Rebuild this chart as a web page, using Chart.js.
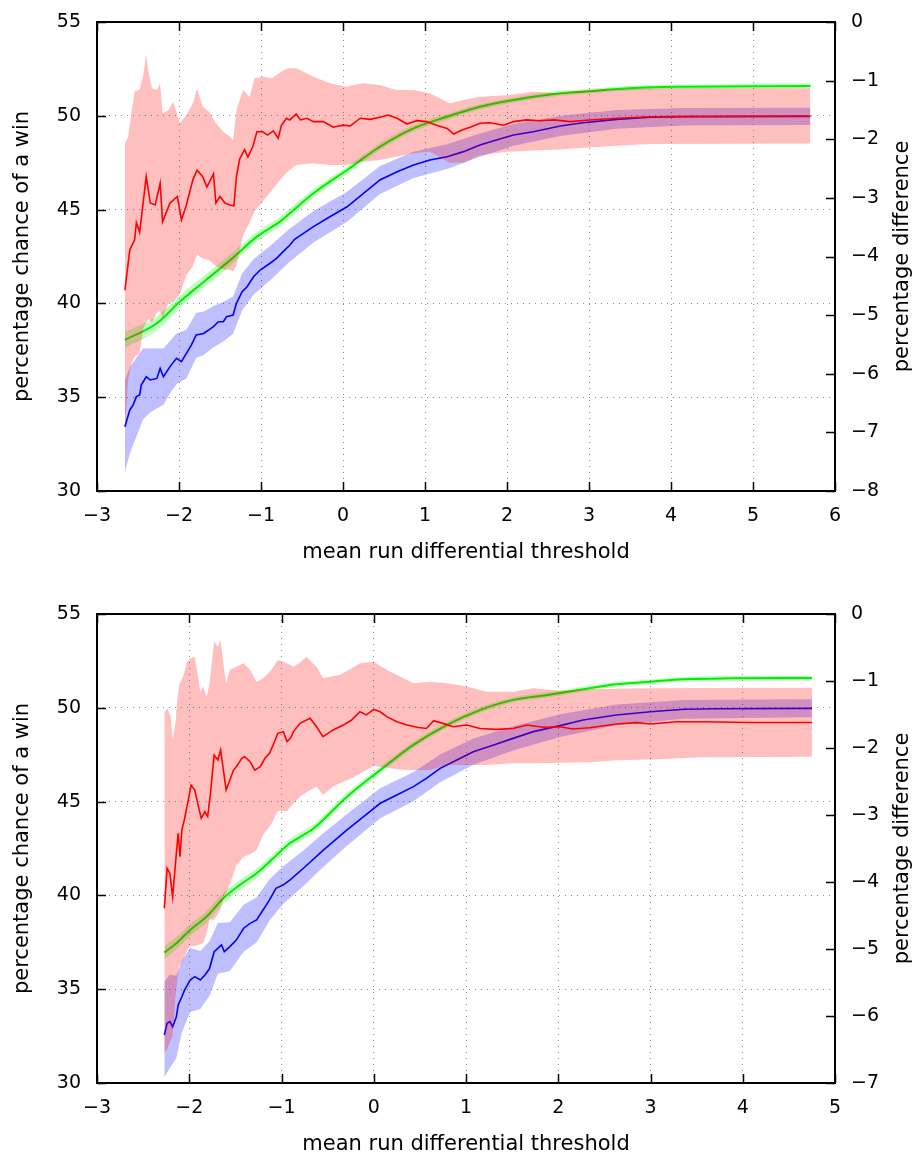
<!DOCTYPE html>
<html>
<head>
<meta charset="utf-8">
<script src="https://cdn.jsdelivr.net/npm/chart.js@4.4.1/dist/chart.umd.min.js"></script>
<style>
html,body{margin:0;padding:0;background:#fff;}
canvas{position:absolute;left:0;}
</style>
</head>
<body>
<canvas id="c1" width="913" height="563" style="top:0px"></canvas>
<canvas id="c2" width="913" height="563" style="top:592px"></canvas>
<script>
// ---------- TOP PANEL DATA ----------
const TOP_RED_X = [-2.66,-2.60,-2.54,-2.52,-2.48,-2.44,-2.40,-2.35,-2.29,-2.23,-2.20,-2.11,-2.02,-1.97,-1.91,-1.83,-1.78,-1.71,-1.66,-1.58,-1.55,-1.50,-1.44,-1.38,-1.33,-1.30,-1.26,-1.20,-1.16,-1.10,-1.05,-0.98,-0.92,-0.85,-0.79,-0.75,-0.69,-0.65,-0.57,-0.52,-0.44,-0.36,-0.24,-0.12,0.00,0.09,0.21,0.33,0.45,0.55,0.66,0.78,0.90,1.02,1.14,1.27,1.35,1.45,1.55,1.67,1.79,1.96,2.08,2.24,2.40,2.57,2.77,3.01,3.34,3.74,4.15,5.70];
const TOP_RED = [40.7,42.85,43.4,44.3,43.8,45.25,46.75,45.35,45.25,46.4,44.35,45.35,45.7,44.45,45.25,46.6,47.1,46.75,46.2,46.9,45.35,45.7,45.35,45.25,45.2,46.75,47.7,48.2,47.8,48.35,49.15,49.15,48.97,49.2,48.8,49.5,49.87,49.78,50.1,49.78,49.87,49.69,49.69,49.39,49.5,49.46,49.87,49.81,49.92,50.04,49.87,49.56,49.74,49.69,49.5,49.33,49.03,49.24,49.39,49.6,49.63,49.5,49.69,49.78,49.74,49.78,49.69,49.78,49.87,49.95,49.97,49.99];

const TOP_RED_BAND_X = [-2.66,-2.62,-2.58,-2.54,-2.48,-2.44,-2.40,-2.37,-2.33,-2.27,-2.23,-2.20,-2.13,-2.07,-1.99,-1.91,-1.83,-1.78,-1.71,-1.63,-1.55,-1.46,-1.38,-1.34,-1.30,-1.22,-1.14,-1.08,-0.97,-0.87,-0.77,-0.68,-0.57,-0.36,-0.16,0.04,0.24,0.45,0.65,0.86,1.06,1.30,1.47,1.67,2.00,2.32,2.65,2.93,3.74,5.70];
const TOP_RED_LO = [33.3,35.9,36.8,37.16,37.34,38.6,39.0,39.2,39.0,39.5,39.6,39.2,40.0,40.1,40.5,41.5,42.0,42.6,42.4,42.3,42.0,41.8,41.8,41.7,42.0,43.6,44.3,44.9,45.5,46.0,46.58,47.0,47.38,47.47,47.38,47.38,47.55,47.64,47.82,48.0,48.09,47.5,47.5,47.9,48.09,48.15,48.2,48.3,48.5,48.53];
const TOP_RED_HI = [48.5,48.9,50.2,51.3,51.4,52.1,53.24,52.27,51.47,51.38,51.73,50.13,50.3,50.75,49.6,50.04,50.67,51.47,50.48,50.2,49.6,49.15,48.89,48.7,50.3,51.38,51.0,52.0,52.08,52.0,52.3,52.53,52.53,52.08,51.73,51.55,51.73,51.64,51.38,51.38,51.2,50.67,50.84,51.02,51.1,51.28,51.2,51.38,51.47,51.47];

const TOP_BLUE_X = [-2.66,-2.60,-2.56,-2.52,-2.48,-2.46,-2.40,-2.35,-2.27,-2.23,-2.19,-2.11,-2.03,-1.97,-1.91,-1.85,-1.79,-1.70,-1.64,-1.58,-1.52,-1.46,-1.42,-1.34,-1.30,-1.23,-1.17,-1.09,-1.01,-0.89,-0.81,-0.73,-0.65,-0.59,-0.36,-0.16,0.05,0.25,0.45,0.66,0.86,1.06,1.27,1.47,1.67,1.87,2.08,2.32,2.65,2.93,3.34,3.74,4.15,5.70];
const TOP_BLUE = [33.43,34.32,34.58,35.03,35.12,35.65,36.09,35.92,36.0,36.54,36.09,36.63,37.07,36.9,37.34,37.78,38.32,38.4,38.58,38.76,39.02,39.02,39.29,39.38,40.0,40.62,40.89,41.42,41.78,42.14,42.4,42.76,43.1,43.42,44.09,44.62,45.15,45.87,46.58,47.02,47.38,47.64,47.82,48.09,48.44,48.71,48.98,49.15,49.46,49.63,49.81,49.92,49.95,49.97];

const TOP_BLUE_BAND_X = [-2.66,-2.60,-2.52,-2.44,-2.35,-2.27,-2.19,-2.11,-2.03,-1.91,-1.79,-1.70,-1.58,-1.46,-1.34,-1.23,-1.09,-0.89,-0.65,-0.36,0.05,0.45,0.86,1.27,1.67,2.08,2.65,3.34,4.15,5.70];
const TOP_BLUE_LO = [31.0,32.0,32.9,33.8,34.2,34.4,34.6,35.2,35.7,36.0,37.1,37.25,37.66,37.97,38.38,39.64,40.47,41.22,42.22,43.25,44.35,45.83,46.68,47.16,47.82,48.4,48.92,49.31,49.48,49.51];
const TOP_BLUE_HI = [35.9,36.6,37.1,37.6,37.6,37.6,37.6,38.0,38.4,38.6,39.5,39.55,39.86,40.07,40.38,41.6,42.37,43.06,43.98,44.93,45.95,47.33,48.08,48.48,49.06,49.56,50.0,50.31,50.42,50.43];

// green: percentage difference (right axis)
const TOP_GREEN_X = [-2.66,-2.27,-1.99,-1.67,-1.35,-1.05,-0.77,-0.65,-0.36,0.05,0.45,0.86,1.27,1.67,2.08,2.65,2.93,3.34,3.74,4.15,5.70];
const TOP_GREEN = [-5.424,-5.139,-4.771,-4.40,-4.032,-3.661,-3.405,-3.264,-2.922,-2.525,-2.128,-1.814,-1.616,-1.446,-1.331,-1.216,-1.190,-1.142,-1.114,-1.104,-1.091];
const TOP_GREEN_LO = [-5.564,-5.259,-4.881,-4.50,-4.127,-3.746,-3.485,-3.342,-2.992,-2.59,-2.188,-1.869,-1.666,-1.494,-1.376,-1.258,-1.23,-1.182,-1.154,-1.144,-1.131];
const TOP_GREEN_HI = [-5.284,-5.019,-4.661,-4.30,-3.937,-3.576,-3.325,-3.186,-2.852,-2.46,-2.068,-1.759,-1.566,-1.398,-1.286,-1.174,-1.15,-1.102,-1.074,-1.064,-1.051];

// ---------- BOTTOM PANEL DATA ----------
const BOT_RED_X = [-2.27,-2.24,-2.21,-2.18,-2.14,-2.12,-2.10,-2.08,-2.05,-2.01,-1.98,-1.94,-1.90,-1.87,-1.83,-1.80,-1.77,-1.73,-1.69,-1.66,-1.63,-1.60,-1.56,-1.52,-1.49,-1.43,-1.40,-1.34,-1.29,-1.23,-1.18,-1.13,-1.09,-1.04,-0.98,-0.94,-0.90,-0.87,-0.80,-0.69,-0.62,-0.55,-0.44,-0.33,-0.24,-0.15,-0.08,0.00,0.07,0.14,0.25,0.36,0.47,0.57,0.65,0.75,0.86,1.01,1.15,1.33,1.51,1.66,1.84,2.02,2.16,2.34,2.63,2.85,3.00,3.28,3.57,4.08,4.75];
const BOT_RED = [39.31,41.44,41.17,39.93,42.24,43.31,42.06,43.49,44.1,45.09,45.88,45.62,44.73,44.11,44.46,44.2,45.44,47.48,47.22,47.75,46.68,45.62,46.15,46.68,46.86,47.31,47.39,47.13,46.68,46.86,47.31,47.57,48.02,48.64,48.73,48.2,48.4,48.73,49.17,49.44,48.99,48.46,48.82,49.08,49.35,49.79,49.62,49.92,49.79,49.53,49.26,49.08,48.96,48.9,49.31,49.17,48.99,49.08,48.9,48.85,48.9,49.08,48.96,48.99,48.87,48.94,49.14,49.21,49.14,49.26,49.26,49.22,49.22];

const BOT_RED_BAND_X = [-2.27,-2.24,-2.20,-2.18,-2.15,-2.13,-2.11,-2.06,-2.03,-1.99,-1.94,-1.91,-1.88,-1.85,-1.81,-1.78,-1.73,-1.69,-1.66,-1.63,-1.60,-1.56,-1.49,-1.41,-1.34,-1.27,-1.20,-1.11,-1.04,-0.94,-0.87,-0.80,-0.73,-0.62,-0.55,-0.44,-0.37,-0.24,-0.15,0.00,0.14,0.29,0.43,0.61,0.79,1.01,1.22,1.51,1.73,2.02,2.34,2.63,3.00,3.57,4.75];
const BOT_RED_LO = [31.6,31.8,32.3,32.5,34.5,35.5,36.2,36.6,37.0,37.3,37.3,37.35,37.4,37.45,38.0,38.7,38.7,39.0,39.3,39.8,40.1,40.6,41.6,42.06,42.2,42.42,43.2,43.8,44.5,44.5,44.9,45.26,45.5,45.8,45.35,45.8,45.98,46.24,46.5,46.9,46.8,46.7,46.68,46.68,46.95,46.95,46.95,47.04,47.05,47.07,47.1,47.2,47.25,47.36,47.39];
const BOT_RED_HI = [49.7,49.97,49.53,48.28,49.17,50.42,51.22,51.75,52.37,52.64,52.72,51.84,50.86,51.13,50.59,51.31,53.53,53.26,53.61,52.37,51.31,52.02,52.19,52.37,52.02,51.39,51.57,52.02,52.55,52.37,52.19,52.4,52.72,52.19,51.57,51.7,51.75,52.1,52.37,52.46,52.02,51.66,51.31,51.39,51.31,51.13,50.86,50.86,51.04,50.91,50.99,51.02,51.04,51.06,51.07];

const BOT_BLUE_X = [-2.27,-2.24,-2.21,-2.18,-2.14,-2.12,-2.08,-2.05,-1.99,-1.94,-1.88,-1.83,-1.78,-1.73,-1.69,-1.65,-1.62,-1.56,-1.49,-1.41,-1.34,-1.27,-1.20,-1.13,-1.06,-0.98,-0.91,-0.75,-0.55,-0.29,-0.11,0.07,0.25,0.43,0.57,0.72,0.90,1.08,1.30,1.51,1.73,2.02,2.27,2.63,3.00,3.36,3.72,4.75];
const BOT_BLUE = [32.56,33.18,33.27,33.0,33.53,34.16,34.6,34.96,35.49,35.67,35.49,35.76,36.1,37.0,37.18,37.36,37.0,37.27,37.62,38.25,38.51,38.69,39.22,39.76,40.38,40.56,40.82,41.5,42.4,43.49,44.2,44.91,45.35,45.8,46.24,46.77,47.22,47.66,48.02,48.37,48.73,49.05,49.35,49.62,49.79,49.92,49.95,49.97];

const BOT_BLUE_BAND_X = [-2.27,-2.21,-2.14,-2.08,-1.99,-1.88,-1.78,-1.69,-1.56,-1.41,-1.27,-1.13,-0.98,-0.75,-0.55,-0.29,0.07,0.43,0.72,1.08,1.51,2.02,2.63,3.36,4.75];
const BOT_BLUE_LO = [30.3,30.8,31.33,32.7,33.79,33.94,34.65,35.83,35.97,37.0,37.49,38.66,39.56,40.55,41.5,42.64,44.11,45.02,46.03,46.96,47.73,48.45,49.07,49.42,49.49];
const BOT_BLUE_HI = [35.4,35.77,35.73,36.5,37.19,37.04,37.55,38.53,38.57,39.5,39.89,40.86,41.56,42.45,43.3,44.34,45.71,46.58,47.51,48.36,49.01,49.65,50.17,50.42,50.45];

const BOT_GREEN_X = [-2.27,-2.14,-1.99,-1.81,-1.63,-1.45,-1.27,-1.09,-0.91,-0.65,-0.29,0.07,0.43,0.79,1.15,1.51,1.91,2.27,2.63,3.00,3.36,3.90,4.75];
const BOT_GREEN = [-5.054,-4.914,-4.715,-4.516,-4.242,-4.043,-3.870,-3.646,-3.422,-3.198,-2.727,-2.330,-1.954,-1.658,-1.434,-1.282,-1.204,-1.123,-1.050,-1.011,-0.974,-0.960,-0.955];
const BOT_GREEN_LO = [-5.154,-5.009,-4.805,-4.601,-4.322,-4.118,-3.94,-3.714,-3.487,-3.258,-2.782,-2.38,-2.002,-1.703,-1.476,-1.322,-1.242,-1.159,-1.085,-1.046,-1.009,-0.995,-0.99];
const BOT_GREEN_HI = [-4.954,-4.819,-4.625,-4.431,-4.162,-3.968,-3.80,-3.578,-3.357,-3.138,-2.672,-2.28,-1.906,-1.613,-1.392,-1.242,-1.166,-1.087,-1.015,-0.976,-0.939,-0.925,-0.92];

// axis labels
const X_TITLE = 'mean run differential threshold';
const Y_TITLE = 'percentage chance of a win';
const Y2_TITLE = 'percentage difference';

// ---------- RENDER ----------
Chart.defaults.font.family = "'DejaVu Sans', sans-serif";
Chart.defaults.font.size = 19;
Chart.defaults.color = '#000';

function pts(xs, ys){ return xs.map((x,i)=>({x:x, y:ys[i]})); }
function fmt(v){ return v < 0 ? '\u2212' + Math.abs(v) : String(v); }

const framePlugin = {
  id: 'frame',
  afterDatasetsDraw(chart){
    const {ctx, chartArea:{left,right,top,bottom}, scales} = chart;
    ctx.save();
    ctx.strokeStyle = '#000';
    ctx.lineWidth = 1.5;
    ctx.beginPath();
    scales.x.ticks.forEach(t=>{
      const px = Math.round(scales.x.getPixelForValue(t.value)) + 0.5;
      ctx.moveTo(px,bottom); ctx.lineTo(px,bottom-9);
      ctx.moveTo(px,top); ctx.lineTo(px,top+9);
    });
    scales.y.ticks.forEach(t=>{
      const py = Math.round(scales.y.getPixelForValue(t.value)) + 0.5;
      ctx.moveTo(left,py); ctx.lineTo(left+9,py);
    });
    scales.y2.ticks.forEach(t=>{
      const py = Math.round(scales.y2.getPixelForValue(t.value)) + 0.5;
      ctx.moveTo(right,py); ctx.lineTo(right-9,py);
    });
    ctx.stroke();
    ctx.lineWidth = 2;
    ctx.strokeRect(left, top, right-left, bottom-top);
    // right axis title (reads bottom-to-top)
    ctx.translate(903, (top+bottom)/2);
    ctx.rotate(-Math.PI/2);
    ctx.fillStyle = '#000';
    ctx.font = "21px 'DejaVu Sans', sans-serif";
    ctx.textAlign = 'center';
    ctx.textBaseline = 'middle';
    ctx.fillText(Y2_TITLE, 0, 0);
    ctx.restore();
  }
};

function makeChart(id, P){
  const datasets = [
    {data: pts(P.redX, P.red), borderColor:'#ff0000', borderWidth:1.6, pointRadius:0, fill:false, order:0, yAxisID:'y'},
    {data: pts(P.rbX, P.rbLo), borderWidth:0, borderColor:'rgba(0,0,0,0)', pointRadius:0, fill:false, order:1, yAxisID:'y'},
    {data: pts(P.rbX, P.rbHi), borderWidth:0, borderColor:'rgba(0,0,0,0)', pointRadius:0, fill:'-1', backgroundColor:'rgba(255,0,0,0.25)', order:1, yAxisID:'y'},
    {data: pts(P.gX, P.g), borderColor:'#00ee00', borderWidth:2, pointRadius:0, fill:false, order:2, yAxisID:'y2', cubicInterpolationMode:'monotone'},
    {data: pts(P.gX, P.gLo), borderWidth:0, borderColor:'rgba(0,0,0,0)', pointRadius:0, fill:false, order:3, yAxisID:'y2', cubicInterpolationMode:'monotone'},
    {data: pts(P.gX, P.gHi), borderWidth:0, borderColor:'rgba(0,0,0,0)', pointRadius:0, fill:'-1', backgroundColor:'rgba(0,255,0,0.25)', order:3, yAxisID:'y2', cubicInterpolationMode:'monotone'},
    {data: pts(P.blueX, P.blue), borderColor:'#0000ff', borderWidth:1.6, pointRadius:0, fill:false, order:4, yAxisID:'y'},
    {data: pts(P.bbX, P.bbLo), borderWidth:0, borderColor:'rgba(0,0,0,0)', pointRadius:0, fill:false, order:5, yAxisID:'y'},
    {data: pts(P.bbX, P.bbHi), borderWidth:0, borderColor:'rgba(0,0,0,0)', pointRadius:0, fill:'-1', backgroundColor:'rgba(0,0,255,0.25)', order:5, yAxisID:'y'}
  ];
  return new Chart(document.getElementById(id), {
    type:'line',
    data:{datasets},
    options:{
      responsive:false, animation:false, devicePixelRatio:1,
      layout:{padding:{top:22, left:0, right:0, bottom:0}},
      plugins:{legend:{display:false}, tooltip:{enabled:false}},
      elements:{line:{tension:0}},
      scales:{
        x:{type:'linear', position:'bottom', min:-3, max:P.xMax,
           ticks:{stepSize:1, padding:14, callback:fmt, maxRotation:0, font:{size:19}},
           grid:{color:'#8a8a8a', lineWidth:1, drawTicks:false},
           border:{display:false, dash:[1,5]},
           title:{display:true, text:X_TITLE, font:{size:21, lineHeight:1.0}, padding:{top:0,bottom:0}},
           afterFit(s){ s.height = 72; }},
        y:{type:'linear', position:'left', min:30, max:55,
           ticks:{stepSize:5, padding:2, callback:fmt, font:{size:19}},
           grid:{color:'#8a8a8a', lineWidth:1, drawTicks:true, tickLength:14, tickColor:'rgba(0,0,0,0)'},
           border:{display:false, dash:[1,5]},
           title:{display:true, text:Y_TITLE, font:{size:21, lineHeight:1.2}, padding:{top:9.5,bottom:0}},
           afterFit(s){ s.width = 97; }},
        y2:{type:'linear', position:'right', min:P.y2Min, max:0,
           ticks:{stepSize:1, padding:2, callback:fmt, font:{size:19}},
           grid:{display:true, drawOnChartArea:false, color:'rgba(0,0,0,0)', drawTicks:true, tickLength:14, tickColor:'rgba(0,0,0,0)'},
           border:{display:false},
           afterFit(s){ s.width = 78; }}
      }
    },
    plugins:[framePlugin]
  });
}

makeChart('c1', {
  xMax:6, y2Min:-8,
  redX:TOP_RED_X, red:TOP_RED, rbX:TOP_RED_BAND_X, rbLo:TOP_RED_LO, rbHi:TOP_RED_HI,
  blueX:TOP_BLUE_X, blue:TOP_BLUE, bbX:TOP_BLUE_BAND_X, bbLo:TOP_BLUE_LO, bbHi:TOP_BLUE_HI,
  gX:TOP_GREEN_X, g:TOP_GREEN, gLo:TOP_GREEN_LO, gHi:TOP_GREEN_HI
});
makeChart('c2', {
  xMax:5, y2Min:-7,
  redX:BOT_RED_X, red:BOT_RED, rbX:BOT_RED_BAND_X, rbLo:BOT_RED_LO, rbHi:BOT_RED_HI,
  blueX:BOT_BLUE_X, blue:BOT_BLUE, bbX:BOT_BLUE_BAND_X, bbLo:BOT_BLUE_LO, bbHi:BOT_BLUE_HI,
  gX:BOT_GREEN_X, g:BOT_GREEN, gLo:BOT_GREEN_LO, gHi:BOT_GREEN_HI
});
</script>
</body>
</html>
